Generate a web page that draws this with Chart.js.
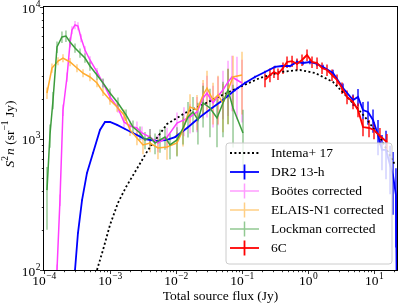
<!DOCTYPE html>
<html>
<head>
<meta charset="utf-8">
<script src="https://cdn.jsdelivr.net/npm/chart.js@4.4.1/dist/chart.umd.min.js"></script>
<style>
  html, body { margin: 0; padding: 0; background: #fff; }
  #wrap { width: 399px; height: 306px; }
</style>
</head>
<body>
<div id="wrap"><canvas id="chart" width="399" height="306"></canvas></div>
<script>
// values (flux in Jy, S^2 n in sr^-1 Jy), errors are relative
var intemaFlux = [6.35e-4, 7.83e-4, 1.0e-3, 1.32e-3, 1.75e-3, 2.39e-3, 3.77e-3, 7.31e-3, 0.0137, 0.0231, 0.0464, 0.0933, 0.1875, 0.377, 0.757, 1.28, 2.39, 4.33, 7.31, 12.3, 20.8];
var intemaS2n = [100, 142, 220, 324, 428, 556, 818, 1288, 1563, 1766, 2104, 2466, 2887, 3205, 3318, 3147, 2692, 1963, 1456, 1025, 630];

var dr2Flux = [2.95e-4, 3.27e-4, 3.77e-4, 4.48e-4, 5.53e-4, 7.05e-4, 8.4e-4, 1.0e-3, 1.28e-3, 1.69e-3, 2.23e-3, 3.39e-3, 5.15e-3, 7.31e-3, 9.66e-3, 0.0147, 0.0231, 0.0351, 0.0515, 0.0783, 0.111, 0.157, 0.223, 0.316, 0.404, 0.533, 0.681, 0.839, 1.07, 1.37, 1.69, 2.39, 3.39, 4.81, 5.72, 6.81, 8.11, 9.66, 11.5, 13.2, 15.2, 17.5, 19.4, 21.5, 22.2];
var dr2S2n = [100, 191, 340, 547, 777, 1161, 1335, 1335, 1268, 1181, 1102, 991, 957, 975, 1025, 1202, 1456, 1706, 1963, 2338, 2643, 2936, 3205, 3499, 3558, 3558, 3818, 3750, 3818, 3687, 3499, 3147, 2421, 1963, 2070, 1648, 1592, 1384, 1064, 818, 818, 628, 527, 371, 50];
var dr2Err = [0.01, 0.01, 0.01, 0.01, 0.01, 0.01, 0.01, 0.01, 0.01, 0.01, 0.01, 0.01, 0.01, 0.01, 0.01, 0.01, 0.01, 0.01, 0.01, 0.02, 0.02, 0.02, 0.02, 0.02, 0.02, 0.02, 0.04, 0.04, 0.04, 0.04, 0.04, 0.06, 0.08, 0.1, 0.15, 0.15, 0.2, 0.2, 0.3, 0.3, 0.4, 0.4, 0.5, 0.6, 0];

var bootesFlux = [1.574e-4, 1.746e-4, 1.94e-4, 2.23e-4, 2.48e-4, 2.65e-4, 2.95e-4, 3.27e-4, 3.64e-4, 4.18e-4, 4.97e-4, 6.35e-4, 7.83e-4, 1.0e-3, 1.32e-3, 1.63e-3, 2.01e-3, 2.56e-3, 3.05e-3, 4.04e-3, 5.33e-3, 7.31e-3, 0.01035, 0.0132, 0.0163, 0.0208, 0.0257, 0.0295, 0.0364, 0.0433, 0.0515, 0.0614, 0.0705, 0.0839, 0.1];
var bootesS2n = [100, 341, 1648, 2936, 5322, 6683, 7299, 7170, 5808, 4710, 3953, 3205, 2643, 2070, 1706, 1335, 1245, 1202, 1102, 1025, 924, 1025, 1312, 1384, 1456, 1592, 2032, 2218, 1862, 2104, 2338, 2692, 2936, 2786, 2643];
var bootesErr = [0.1, 0.1, 0.1, 0.08, 0.08, 0.07, 0.07, 0.07, 0.07, 0.07, 0.07, 0.07, 0.07, 0.08, 0.08, 0.1, 0.1, 0.12, 0.12, 0.15, 0.15, 0.18, 0.2, 0.25, 0.25, 0.3, 0.3, 0.35, 0.35, 0.4, 0.4, 0.45, 0.45, 0.5, 0.5];

var elaisFlux = [1.11e-4, 1.32e-4, 1.63e-4, 1.94e-4, 2.48e-4, 3.16e-4, 3.90e-4, 4.97e-4, 6.35e-4, 7.83e-4, 1.0e-3, 1.28e-3, 1.63e-3, 2.01e-3, 2.56e-3, 3.16e-3, 4.04e-3, 5.33e-3, 7.31e-3, 0.01035, 0.01277, 0.0163, 0.0208, 0.0257, 0.0295, 0.0364, 0.0433, 0.0515, 0.0614, 0.0731, 0.1];
var elaisS2n = [2218, 3436, 3879, 4093, 3818, 3436, 3147, 2936, 2643, 2259, 1963, 1738, 1510, 1161, 1009, 893, 924, 848, 861, 924, 1161, 1738, 1648, 2143, 2421, 1963, 2143, 1862, 2338, 2936, 3040];
var elaisErr = [0.1, 0.08, 0.07, 0.07, 0.07, 0.07, 0.07, 0.07, 0.07, 0.07, 0.08, 0.08, 0.1, 0.1, 0.12, 0.15, 0.15, 0.18, 0.2, 0.2, 0.25, 0.25, 0.3, 0.3, 0.35, 0.35, 0.4, 0.4, 0.45, 0.45, 0.5];

var lockmanFlux = [1.11e-4, 1.23e-4, 1.37e-4, 1.574e-4, 1.87e-4, 2.15e-4, 2.48e-4, 2.95e-4, 3.51e-4, 4.18e-4, 4.97e-4, 6.35e-4, 7.83e-4, 1.0e-3, 1.32e-3, 1.75e-3, 2.23e-3, 2.85e-3, 3.39e-3, 4.04e-3, 4.81e-3, 5.72e-3, 6.81e-3, 8.11e-3, 0.01035, 0.01277, 0.0152, 0.0181, 0.0215, 0.0257, 0.0327, 0.0418, 0.0515, 0.0614, 0.0731, 0.1035];
var lockmanS2n = [405, 1064, 1963, 4963, 5916, 6016, 5420, 4880, 4470, 4093, 3558, 3040, 2643, 2218, 1862, 1510, 1222, 1102, 975, 1025, 924, 975, 1025, 893, 975, 1202, 1456, 1592, 1384, 1862, 1706, 1432, 1862, 2338, 1706, 1102];
var lockmanErr = [0.5, 0.2, 0.15, 0.1, 0.1, 0.1, 0.08, 0.08, 0.08, 0.08, 0.08, 0.08, 0.08, 0.08, 0.1, 0.1, 0.12, 0.12, 0.15, 0.15, 0.18, 0.2, 0.2, 0.22, 0.25, 0.25, 0.3, 0.3, 0.35, 0.35, 0.4, 0.4, 0.45, 0.45, 0.5, 0.5];

var sixcFlux = [0.223, 0.265, 0.305, 0.351, 0.418, 0.481, 0.573, 0.681, 0.811, 0.966, 1.15, 1.37, 1.63, 1.94, 2.31, 2.75, 3.27, 3.90, 4.81, 5.72, 6.81, 8.40, 10.0, 12.3, 15.7];
var sixcS2n = [2786, 3040, 3205, 3091, 3436, 3818, 3879, 3687, 3953, 4315, 3818, 3750, 3436, 3318, 3040, 2786, 2421, 2070, 1897, 1648, 1222, 1202, 1161, 1044, 940];
var sixcErr = [0.12, 0.12, 0.1, 0.1, 0.1, 0.1, 0.1, 0.1, 0.1, 0.1, 0.1, 0.1, 0.1, 0.1, 0.1, 0.1, 0.1, 0.12, 0.12, 0.12, 0.15, 0.15, 0.15, 0.15, 0.15];

var xTickExps = [-4, -3, -2, -1, 0, 1];
var yTickExps = [2, 3, 4];
var xMin = 1e-4, xMax = 22.3;
var yMin = 100, yMax = 1e4;

var SERIF = '"Liberation Serif", "DejaVu Serif", serif';

function pts(xs, ys) {
    return xs.map(function(x, i) { return { x: x, y: ys[i] }; });
}

// drawing order follows matplotlib: last plotted on top (lowest order in chart.js)
var datasets = [
    { label: 'Intema+ 17', data: pts(intemaFlux, intemaS2n), borderColor: '#000000', borderWidth: 1.8, borderDash: [2, 2.4], order: 5, errs: null, errColor: null, legendColor: '#000000', cross: false },
    { label: 'DR2 13-h', data: pts(dr2Flux, dr2S2n), borderColor: '#0000ff', borderWidth: 1.8, order: 4, errs: dr2Err, errColor: 'rgba(0,0,255,0.9)', legendColor: '#0000ff', cross: true },
    { label: 'Boötes corrected', data: pts(bootesFlux, bootesS2n), borderColor: '#ff3cff', borderWidth: 1.5, order: 3, errs: bootesErr, errColor: 'rgba(255,80,255,0.5)', legendColor: '#ff9cff', cross: true },
    { label: 'ELAIS-N1 corrected', data: pts(elaisFlux, elaisS2n), borderColor: '#ffab2e', borderWidth: 1.5, order: 2, errs: elaisErr, errColor: 'rgba(255,170,40,0.55)', legendColor: '#ffcf85', cross: true },
    { label: 'Lockman corrected', data: pts(lockmanFlux, lockmanS2n), borderColor: '#3c9c3c', borderWidth: 1.5, order: 1, errs: lockmanErr, errColor: 'rgba(50,150,50,0.5)', legendColor: '#92c992', cross: true },
    { label: '6C', data: pts(sixcFlux, sixcS2n), borderColor: '#ff0000', borderWidth: 1.8, order: 0, errs: sixcErr, errColor: 'rgba(255,0,0,0.9)', legendColor: '#ff0000', cross: true }
];
datasets.forEach(function(d) {
    d.showLine = true;
    d.pointRadius = 0;
    d.tension = 0;
    d.fill = false;
});

// "10" with a raised exponent, like matplotlib mathtext
function powLabel(ctx, exp, x, baseY, align) {
    var e = (exp < 0 ? '\u2212' : '') + Math.abs(exp);
    ctx.font = '13.5px ' + SERIF;
    var w1 = ctx.measureText('10').width;
    ctx.font = '9.5px ' + SERIF;
    var w2 = ctx.measureText(e).width;
    var x0 = align === 'center' ? x - (w1 + w2) / 2 : x - (w1 + w2);
    ctx.textAlign = 'left';
    ctx.textBaseline = 'alphabetic';
    ctx.font = '13.5px ' + SERIF;
    ctx.fillText('10', x0, baseY);
    ctx.font = '9.5px ' + SERIF;
    ctx.fillText(e, x0 + w1 + 0.5, baseY - 6);
}

var decor = {
    id: 'decor',
    beforeDatasetsDraw: function(chart) {
        var ctx = chart.ctx, a = chart.chartArea;
        var xs = chart.scales.x, ys = chart.scales.y;
        ctx.save();
        ctx.beginPath();
        ctx.rect(a.left, a.top, a.right - a.left, a.bottom - a.top);
        ctx.clip();
        chart.data.datasets.forEach(function(ds) {
            if (!ds.errs) return;
            ctx.strokeStyle = ds.errColor;
            ctx.lineWidth = 1.5;
            ds.data.forEach(function(p, j) {
                var e = ds.errs[j];
                if (!e) return;
                var px = xs.getPixelForValue(p.x);
                var lo = p.y * (1 - e);
                var yLo = lo > 0 ? ys.getPixelForValue(lo) : a.bottom + 5;
                var yHi = ys.getPixelForValue(p.y * (1 + e));
                ctx.beginPath();
                ctx.moveTo(px, yLo);
                ctx.lineTo(px, yHi);
                ctx.stroke();
            });
        });
        ctx.restore();
    },
    afterDraw: function(chart) {
        var ctx = chart.ctx, a = chart.chartArea;
        var xs = chart.scales.x, ys = chart.scales.y;
        ctx.save();

        // spines
        ctx.strokeStyle = '#000';
        ctx.lineWidth = 1;
        ctx.strokeRect(a.left - 0.5, a.top - 0.5, a.right - a.left + 1, a.bottom - a.top + 1);

        // ticks
        ctx.lineWidth = 0.8;
        for (var ex = -4; ex <= 1; ex++) {
            for (var m = 1; m < 10; m++) {
                var v = m * Math.pow(10, ex);
                if (v < xMin || v > xMax) continue;
                var px = Math.round(xs.getPixelForValue(v)) + 0.5;
                ctx.beginPath();
                ctx.moveTo(px, a.bottom);
                ctx.lineTo(px, a.bottom + (m === 1 ? 4 : 2.2));
                ctx.stroke();
            }
        }
        for (var ey = 2; ey <= 4; ey++) {
            for (var k = 1; k < 10; k++) {
                var vy = k * Math.pow(10, ey);
                if (vy < yMin || vy > yMax) continue;
                var py = Math.round(ys.getPixelForValue(vy)) + 0.5;
                ctx.beginPath();
                ctx.moveTo(a.left, py);
                ctx.lineTo(a.left - (k === 1 ? 4 : 2.2), py);
                ctx.stroke();
            }
        }

        // tick labels
        ctx.fillStyle = '#000';
        xTickExps.forEach(function(e) {
            powLabel(ctx, e, xs.getPixelForValue(Math.pow(10, e)), a.bottom + 15, 'center');
        });
        yTickExps.forEach(function(e) {
            powLabel(ctx, e, a.left - 4, ys.getPixelForValue(Math.pow(10, e)) + 5.5, 'right');
        });

        // axis titles
        ctx.font = '13.5px ' + SERIF;
        ctx.textAlign = 'center';
        ctx.textBaseline = 'alphabetic';
        ctx.fillText('Total source flux (Jy)', (a.left + a.right) / 2, 300);

        var parts = [
            { t: 'S', f: 'italic 13.5px ' + SERIF, dy: 0 },
            { t: '2', f: '9.5px ' + SERIF, dy: -6 },
            { t: 'n', f: 'italic 13.5px ' + SERIF, dy: 0 },
            { t: ' (sr', f: '13.5px ' + SERIF, dy: 0 },
            { t: '\u22121', f: '9.5px ' + SERIF, dy: -6 },
            { t: ' Jy)', f: '13.5px ' + SERIF, dy: 0 }
        ];
        var total = 0;
        parts.forEach(function(p) { ctx.font = p.f; p.w = ctx.measureText(p.t).width; total += p.w; });
        ctx.translate(14, (a.top + a.bottom) / 2 - 4);
        ctx.rotate(-Math.PI / 2);
        ctx.textAlign = 'left';
        var cx = -total / 2;
        parts.forEach(function(p) {
            ctx.font = p.f;
            ctx.fillText(p.t, cx, p.dy);
            cx += p.w + (p.t === '2' ? 1 : 0);
        });
        ctx.setTransform(1, 0, 0, 1, 0, 0);

        // legend
        var bx = 226, by = 143, bw = 166, bh = 121, r = 3;
        ctx.beginPath();
        ctx.moveTo(bx + r, by);
        ctx.lineTo(bx + bw - r, by);
        ctx.quadraticCurveTo(bx + bw, by, bx + bw, by + r);
        ctx.lineTo(bx + bw, by + bh - r);
        ctx.quadraticCurveTo(bx + bw, by + bh, bx + bw - r, by + bh);
        ctx.lineTo(bx + r, by + bh);
        ctx.quadraticCurveTo(bx, by + bh, bx, by + bh - r);
        ctx.lineTo(bx, by + r);
        ctx.quadraticCurveTo(bx, by, bx + r, by);
        ctx.closePath();
        ctx.fillStyle = 'rgba(255,255,255,0.8)';
        ctx.fill();
        ctx.strokeStyle = '#cccccc';
        ctx.lineWidth = 1;
        ctx.stroke();

        chart.data.datasets.forEach(function(ds, i) {
            var ly = 153 + i * 19;
            ctx.strokeStyle = ds.legendColor;
            ctx.lineWidth = ds.borderWidth;
            ctx.setLineDash(ds.borderDash || []);
            ctx.beginPath();
            ctx.moveTo(230, ly);
            ctx.lineTo(259, ly);
            ctx.stroke();
            ctx.setLineDash([]);
            if (ds.cross) {
                ctx.beginPath();
                ctx.moveTo(244.5, ly - 7.5);
                ctx.lineTo(244.5, ly + 7.5);
                ctx.stroke();
            }
            ctx.fillStyle = '#000';
            ctx.font = '13.5px ' + SERIF;
            ctx.textAlign = 'left';
            ctx.textBaseline = 'middle';
            ctx.fillText(ds.label, 271, ly + 0.5);
        });

        ctx.restore();
    }
};

new Chart(document.getElementById('chart'), {
    type: 'scatter',
    data: { datasets: datasets },
    options: {
        responsive: false,
        animation: false,
        devicePixelRatio: 1,
        layout: { padding: { left: 44, top: 7, right: 2, bottom: 36 } },
        scales: {
            x: { type: 'logarithmic', min: xMin, max: xMax, display: false },
            y: { type: 'logarithmic', min: yMin, max: yMax, display: false }
        },
        plugins: {
            legend: { display: false },
            tooltip: { enabled: false }
        }
    },
    plugins: [decor]
});
</script>
</body>
</html>
